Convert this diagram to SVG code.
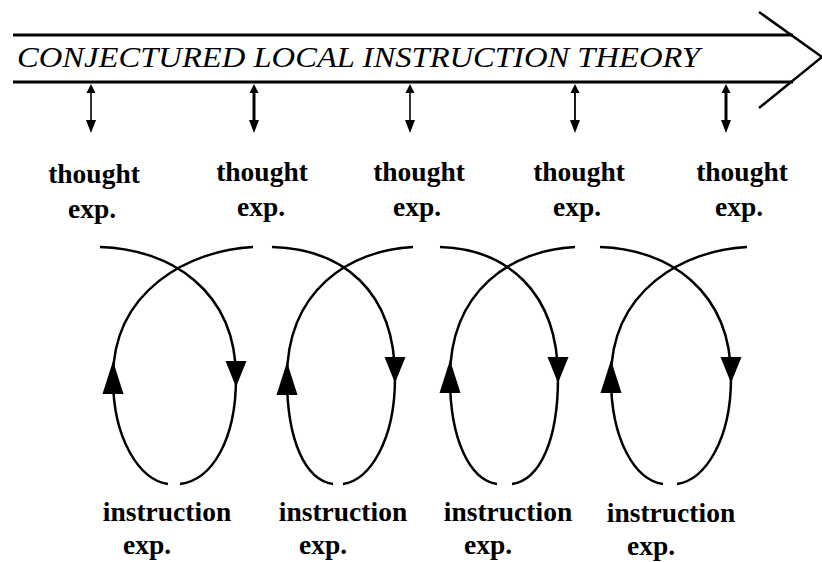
<svg xmlns="http://www.w3.org/2000/svg" width="822" height="562" viewBox="0 0 822 562">
<style>
.bar{stroke:#000;stroke-width:3;fill:none}
.chev{stroke:#000;stroke-width:2.5;fill:none}
.loop{stroke:#000;stroke-width:2.5;fill:none}
.da{stroke:#000;fill:none}
.head{fill:#000}
.title{font-family:"Liberation Serif","Times New Roman",serif;font-style:italic;font-size:30px;fill:#000}
.lbl{font-family:"Liberation Serif","Times New Roman",serif;font-weight:bold;font-size:27.5px;fill:#000;text-anchor:middle}
</style>
<defs>
<polygon id="down" points="-10.5,0 10.5,0 0,26"/>
<polygon id="up" points="-10.5,0 10.5,0 0,-33"/>
<polygon id="sup" points="-4.5,0 4.5,0 0,-9"/>
<polygon id="sdown" points="-5,0 5,0 0,13"/>
</defs>
<g id="theory">
<line class="bar" x1="13" y1="35" x2="793" y2="35"/>
<line class="bar" x1="13" y1="82" x2="793" y2="82"/>
<polyline class="chev" points="759,12 822,57 759,108"/>
<text class="title" x="17" y="67" textLength="683" lengthAdjust="spacingAndGlyphs">CONJECTURED LOCAL INSTRUCTION THEORY</text>
</g>
<g id="connectors">
<line class="da" x1="91" y1="90" x2="91" y2="121" stroke-width="1.6"/>
<use href="#sup" x="91" y="93" class="head"/><use href="#sdown" x="91" y="120" class="head"/>
<line class="da" x1="254" y1="90" x2="254" y2="121" stroke-width="3"/>
<use href="#sup" x="254" y="93" class="head"/><use href="#sdown" x="254" y="120" class="head"/>
<line class="da" x1="410" y1="90" x2="410" y2="121" stroke-width="1.6"/>
<use href="#sup" x="410" y="93" class="head"/><use href="#sdown" x="410" y="120" class="head"/>
<line class="da" x1="575" y1="90" x2="575" y2="121" stroke-width="1.8"/>
<use href="#sup" x="575" y="93" class="head"/><use href="#sdown" x="575" y="120" class="head"/>
<line class="da" x1="726" y1="90" x2="726" y2="121" stroke-width="3"/>
<use href="#sup" x="726" y="93" class="head"/><use href="#sdown" x="726" y="120" class="head"/>

<path class="loop" d="M100,247 C170,249 236,290 236,378 C236,440 212,480 180,484"/>
<path class="loop" d="M168,484 C140,480 113,440 113,378 C113,290 190,250 253,247"/>
<use href="#down" x="236" y="361" class="head"/><use href="#up" x="113" y="394" class="head"/>

<path class="loop" d="M272,247 C342,249 395,290 395,378 C395,440 370,480 343,484"/>
<path class="loop" d="M333,484 C305,480 287,440 287,378 C287,290 350,250 413,247"/>
<use href="#down" x="395" y="357" class="head"/><use href="#up" x="287" y="395" class="head"/>

<path class="loop" d="M440,247 C505,249 558,290 558,378 C558,440 540,480 512,484"/>
<path class="loop" d="M497,484 C470,480 450,440 450,378 C450,290 512,250 575,247"/>
<use href="#down" x="558" y="357" class="head"/><use href="#up" x="450" y="393" class="head"/>

<path class="loop" d="M600,247 C668,249 731,290 731,378 C731,440 705,480 677,484"/>
<path class="loop" d="M663,484 C635,480 611,440 611,378 C611,290 684,250 747,247"/>
<use href="#down" x="731" y="357" class="head"/><use href="#up" x="611" y="393" class="head"/>
</g>
<g id="thought1"><text class="lbl" x="94" y="183">thought</text><text class="lbl" x="92" y="218">exp.</text></g>
<g id="thought2"><text class="lbl" x="262" y="181">thought</text><text class="lbl" x="261" y="216">exp.</text></g>
<g id="thought3"><text class="lbl" x="419" y="181">thought</text><text class="lbl" x="417" y="216">exp.</text></g>
<g id="thought4"><text class="lbl" x="579" y="181">thought</text><text class="lbl" x="577" y="216">exp.</text></g>
<g id="thought5"><text class="lbl" x="742" y="181">thought</text><text class="lbl" x="739" y="216">exp.</text></g>
<g id="instr1"><text class="lbl" x="167" y="521">instruction</text><text class="lbl" x="147" y="554">exp.</text></g>
<g id="instr2"><text class="lbl" x="343" y="521">instruction</text><text class="lbl" x="323" y="554">exp.</text></g>
<g id="instr3"><text class="lbl" x="508" y="521">instruction</text><text class="lbl" x="488" y="554">exp.</text></g>
<g id="instr4"><text class="lbl" x="671" y="522">instruction</text><text class="lbl" x="651" y="555">exp.</text></g>
</svg>
